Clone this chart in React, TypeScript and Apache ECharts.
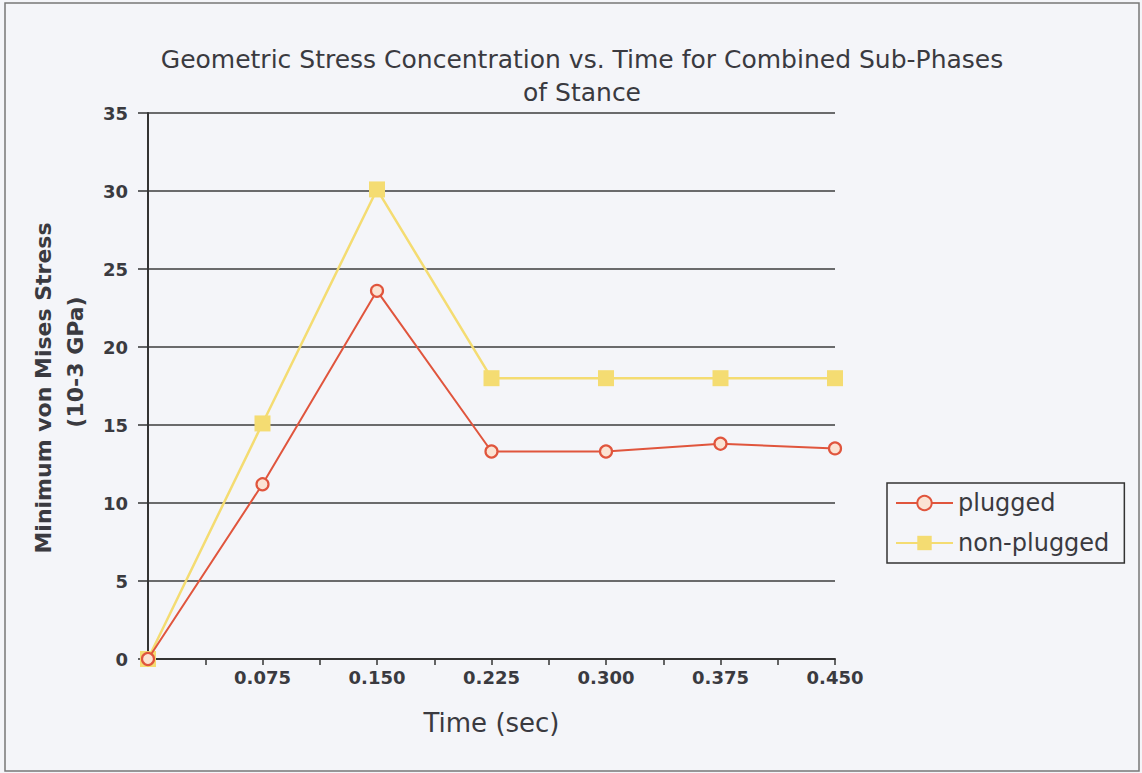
import React, { useEffect, useRef } from "react";
import * as echarts from "echarts";

const times = [0, 0.075, 0.15, 0.225, 0.3, 0.375, 0.45];
const plugged = [0, 11.2, 23.6, 13.3, 13.3, 13.8, 13.5];
const nonPlugged = [0, 15.1, 30.1, 18.0, 18.0, 18.0, 18.0];

const titleLines = ["Geometric Stress Concentration vs. Time for Combined Sub-Phases", "of Stance"];
const yNameLine1 = "Minimum von Mises Stress";
const yNameLine2 = "(10-3 GPa)";
const xName = "Time (sec)";

export default function App() {
  const ref = useRef<HTMLDivElement>(null);
  useEffect(() => {
    const chart = echarts.init(ref.current!, undefined, { renderer: "svg" });
    const font = "'DejaVu Sans', Verdana, sans-serif";
    const ink = "#3a3a40";
    chart.setOption({
      animation: false,
      backgroundColor: "#f4f5f9",
      textStyle: { fontFamily: font },
      title: {
        text: titleLines.join("\n"),
        left: 577,
        top: 38,
        textAlign: "center",
        textStyle: { fontSize: 25, fontWeight: "normal", color: ink, lineHeight: 33, fontFamily: font },
      },
      grid: { left: 148, top: 113, right: 307, bottom: 114, containLabel: false },
      legend: {
        left: 887,
        top: 483,
        orient: "vertical",
        borderColor: "#333",
        borderWidth: 1.5,
        padding: [8, 15, 8, 8],
        itemGap: 16,
        itemWidth: 57,
        itemHeight: 18,
        textStyle: { fontSize: 24, color: ink, fontFamily: font },
        data: ["plugged", "non-plugged"],
      },
      xAxis: {
        type: "value",
        min: 0,
        max: 0.45,
        interval: 0.075,
        name: xName,
        nameLocation: "middle",
        nameGap: 51,
        nameTextStyle: { fontSize: 26, color: ink, fontFamily: font },
        axisLine: { show: true, lineStyle: { color: "#333", width: 2 } },
        axisTick: { show: true, length: 6, lineStyle: { color: "#333", width: 1.5 } },
        minorTick: { show: true, splitNumber: 2, length: 6, lineStyle: { color: "#333", width: 1.5 } },
        splitLine: { show: false },
        axisLabel: {
          fontSize: 18,
          color: ink,
          margin: 9,
          fontWeight: "bold",
          fontFamily: font,
          formatter: (v: number) => (v === 0 ? "" : v.toFixed(3)),
        },
      },
      yAxis: {
        type: "value",
        min: 0,
        max: 35,
        interval: 5,
        axisLine: { show: true, lineStyle: { color: "#333", width: 2 } },
        axisTick: { show: true, length: 10, lineStyle: { color: "#333", width: 1.5 } },
        splitLine: { show: true, lineStyle: { color: "#3c3c3c", width: 1.6 } },
        axisLabel: { fontSize: 18, color: ink, margin: 20, fontWeight: "bold", fontFamily: font },
      },
      graphic: [
        {
          type: "rect",
          shape: { x: 5, y: 3, width: 1134, height: 768 },
          style: { fill: "none", stroke: "#777", lineWidth: 1.5 },
          silent: true,
        },
        {
          type: "text",
          x: 43,
          y: 388,
          rotation: Math.PI / 2,
          style: {
            text: yNameLine1,
            fontSize: 22,
            fontWeight: "bold",
            fill: ink,
            align: "center",
            verticalAlign: "middle",
            fontFamily: font,
          },
        },
        {
          type: "text",
          x: 75,
          y: 362,
          rotation: Math.PI / 2,
          style: {
            text: yNameLine2,
            fontSize: 22,
            fontWeight: "bold",
            fill: ink,
            align: "center",
            verticalAlign: "middle",
            fontFamily: font,
          },
        },
      ],
      series: [
        {
          name: "plugged",
          type: "line",
          data: times.map((t, i) => [t, plugged[i]]),
          symbol: "circle",
          symbolSize: 12,
          showSymbol: true,
          lineStyle: { color: "#e0553d", width: 2 },
          itemStyle: { color: "#fbe3d3", borderColor: "#e0553d", borderWidth: 2.2 },
          z: 3,
        },
        {
          name: "non-plugged",
          type: "line",
          data: times.map((t, i) => [t, nonPlugged[i]]),
          symbol: "rect",
          symbolSize: 16,
          showSymbol: true,
          lineStyle: { color: "#f4dc72", width: 2.5 },
          itemStyle: { color: "#f4dc72", borderColor: "#f4dc72", borderWidth: 0 },
          z: 2,
        },
      ],
    });
    return () => chart.dispose();
  }, []);
  return <div ref={ref} style={{ position: "fixed", left: 0, top: 0, width: 1142, height: 773 }} />;
}
